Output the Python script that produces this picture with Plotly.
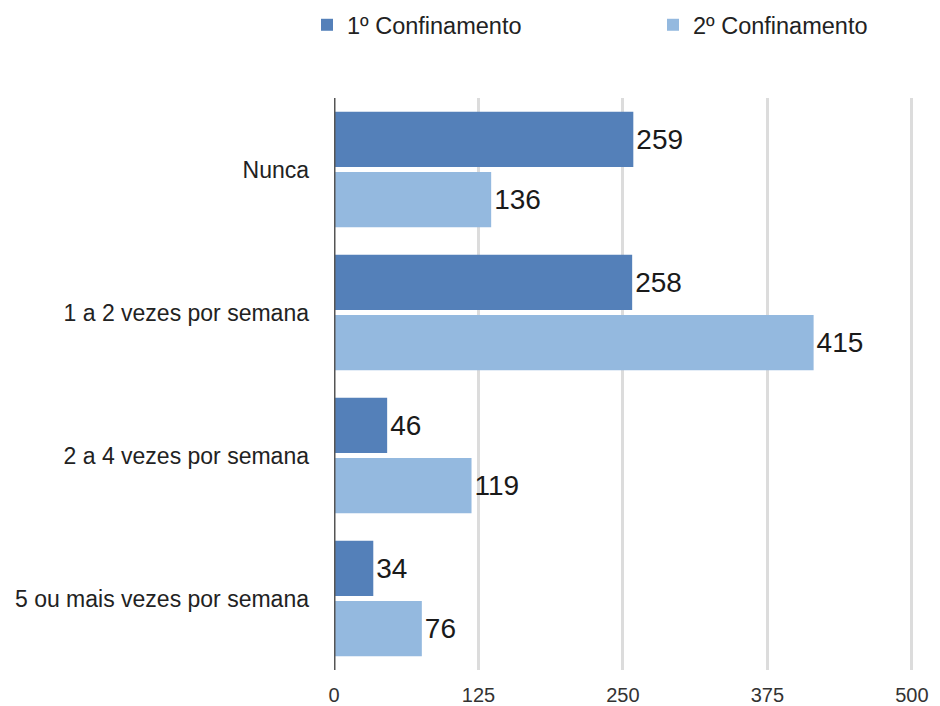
import plotly.graph_objects as go

categorias = ["Nunca", "1 a 2 vezes por semana", "2 a 4 vezes por semana", "5 ou mais vezes por semana"]
confinamento_1 = [259, 258, 46, 34]
confinamento_2 = [136, 415, 119, 76]
ticks_x = [0, 125, 250, 375, 500]

FONTE = "Liberation Sans, Arial, sans-serif"
# a página tem margem de 8px no body, por isso a figura é um pouco menor
W, H = 932, 698

fig = go.Figure()

fig.add_trace(go.Bar(
    y=categorias, x=confinamento_1, orientation="h",
    name="1º Confinamento",
    marker=dict(color="#5480b9", line=dict(width=0)),
    text=confinamento_1, textposition="outside",
    textfont=dict(size=28, color="#1a1a1a"),
    cliponaxis=False,
    legend="legend",
))
fig.add_trace(go.Bar(
    y=categorias, x=confinamento_2, orientation="h",
    name="2º Confinamento",
    marker=dict(color="#94b9df", line=dict(width=0)),
    text=confinamento_2, textposition="outside",
    textfont=dict(size=28, color="#1a1a1a"),
    cliponaxis=False,
    legend="legend2",
))

leg = dict(orientation="h", xref="container", yref="container",
           xanchor="left", yanchor="middle", y=1 - 17 / H,
           font=dict(size=23.5, color="#222", family=FONTE),
           bgcolor="rgba(0,0,0,0)")

fig.update_layout(
    width=W, height=H,
    barmode="group",
    bargap=0.16,
    bargroupgap=0.08,
    plot_bgcolor="white",
    paper_bgcolor="white",
    font=dict(family=FONTE, size=23, color="#222"),
    margin=dict(l=326, r=27, t=90, b=36),
    showlegend=True,
    legend=dict(leg, x=299 / W),
    legend2=dict(leg, x=645 / W),
)

fig.update_xaxes(
    range=[0, 501], tickvals=ticks_x, showgrid=True,
    gridcolor="#dcdcdc", gridwidth=3, zeroline=False,
    showline=False, ticks="", automargin=False,
    ticklabelstandoff=11,
    tickfont=dict(size=20, color="#333"),
)
fig.update_yaxes(
    autorange="reversed", showgrid=False, zeroline=False,
    showline=False, ticks="", automargin=False,
    ticklabelstandoff=24,
    tickfont=dict(size=23, color="#222"),
)

# linha do eixo em x=0
fig.add_shape(type="line", xref="x", yref="paper", x0=0, x1=0, y0=0, y1=1.0,
              line=dict(color="#555", width=3))

fig.write_html("out.html")
